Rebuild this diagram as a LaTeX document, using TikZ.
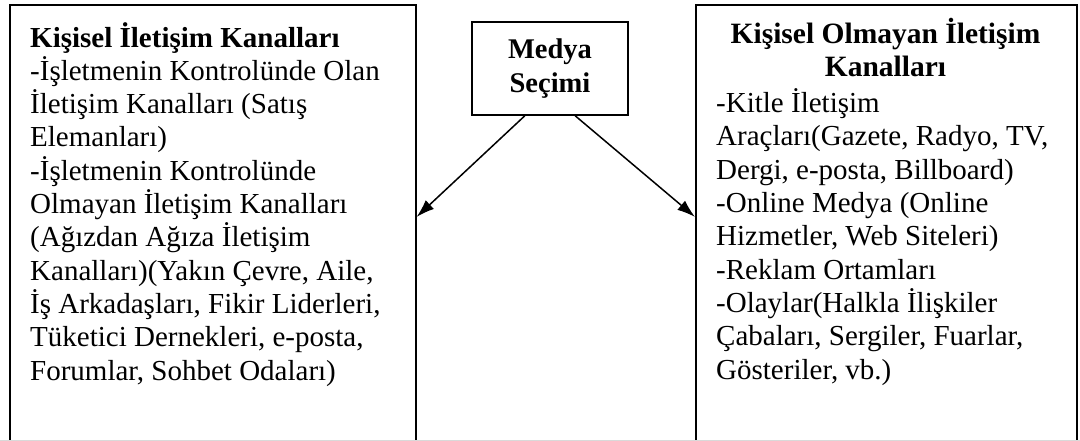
\documentclass[tikz,border=0pt]{standalone}
\usepackage{fontspec}
\setmainfont{Liberation Serif}
\usetikzlibrary{arrows.meta,calc}
\begin{document}
\begin{tikzpicture}[x=1pt,y=-1pt,
  panel/.style={draw=black,line width=1.6pt,anchor=north west,inner sep=0pt},
  bodytext/.style={font=\fontsize{29}{33.3}\selectfont,align=left,anchor=base west,inner sep=0pt},
  titletext/.style={font=\fontsize{29.5}{33.3}\selectfont\bfseries,align=center,anchor=base,inner sep=0pt},
  choicebox/.style={draw=black,line width=1.6pt,minimum width=156pt,minimum height=93pt,
    inner sep=0pt,font=\fontsize{28.5}{33.3}\selectfont\bfseries,align=center},
  link/.style={line width=1.5pt,-{Latex[length=18pt,width=12pt]}}]
\useasboundingbox[fill=white] (0,0) rectangle (1080,441);

% outer panels (continue past the lower edge of the page)
\node[panel,minimum width=406pt,minimum height=442pt] (left) at (9,4) {};
\node[panel,minimum width=381pt,minimum height=442pt] (right) at (695,4) {};
\draw[gray!30,line width=1pt] (0,440) -- (1080,440);

% personal channels (anchored on the baseline of the last line)
\node[bodytext] (lefttext) at (30,380) {\textbf{Kişisel İletişim Kanalları}\\
-İşletmenin Kontrolünde Olan\\
İletişim Kanalları (Satış\\
Elemanları)\\
-İşletmenin Kontrolünde\\
Olmayan İletişim Kanalları\\
(Ağızdan Ağıza İletişim\\
Kanalları)(Yakın Çevre, Aile,\\
İş Arkadaşları, Fikir Liderleri,\\
Tüketici Dernekleri, e-posta,\\
Forumlar, Sohbet Odaları)};

% non-personal channels
\node[titletext] (righttitle) at (885.5,77) {Kişisel Olmayan İletişim\\Kanalları};
\node[bodytext] (righttext) at (716,379) {-Kitle İletişim\\
Araçları(Gazete, Radyo, TV,\\
Dergi, e-posta, Billboard)\\
-Online Medya (Online\\
Hizmetler, Web Siteleri)\\
-Reklam Ortamları\\
-Olaylar(Halkla İlişkiler\\
Çabaları, Sergiler, Fuarlar,\\
Gösteriler, vb.)};

% media choice
\node[choicebox] (medya) at (550,68.5) {Medya\\Seçimi};

\coordinate (lefthit) at ($(left.north east)!0.48!(left.south east)$);
\coordinate (righthit) at ($(right.north west)!0.48!(right.south west)$);
\draw[link] ($(medya.south west)!0.34!(medya.south east)$) -- (lefthit);
\draw[link] ($(medya.south west)!0.66!(medya.south east)$) -- (righthit);
\end{tikzpicture}
\end{document}
